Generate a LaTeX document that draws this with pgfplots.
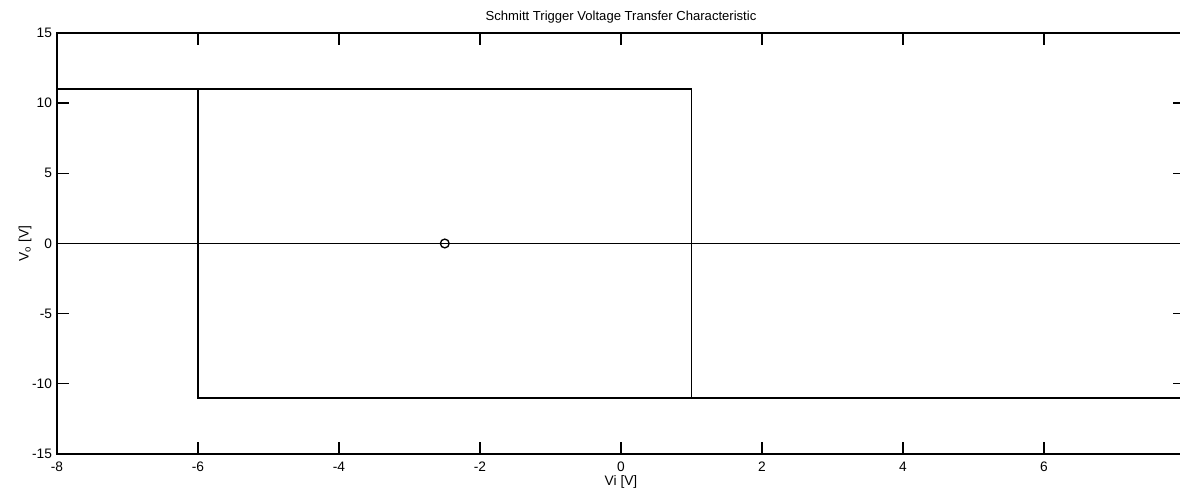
\documentclass[border=0pt]{standalone}
\usepackage{fontspec}
\setmainfont{Liberation Sans}
\usepackage{pgfplots}
\pgfplotsset{compat=1.18}
\begin{document}
\begin{tikzpicture}
\begin{axis}[
  scale only axis,
  width=846pt, height=315.75pt,
  xmin=-8, xmax=8, ymin=-15, ymax=15,
  xtick={-8,-6,...,8}, ytick={-15,-10,...,15},
  xticklabels={-8,-6,-4,-2,0,2,4,6,{}},
  tick align=inside,
  major tick length=9pt,
  every tick/.style={black, line width=1pt},
  axis line style={line width=1.1pt},
  /pgf/number format/assume math mode=true,
  font=\fontsize{10.3}{12}\selectfont,
  ticklabel style={font=\fontsize{10.3}{12}\selectfont},
  yticklabel style={inner sep=0pt, anchor=east, xshift=-3.6pt},
  xticklabel style={inner sep=0pt, anchor=north, yshift=-5.5pt},
  title={Schmitt Trigger Voltage Transfer Characteristic},
  title style={at={(axis description cs:0.5,1)}, anchor=center, yshift=6pt, inner sep=0pt, font=\fontsize{9.8}{11}\selectfont},
  xlabel={Vi [V]},
  xlabel style={at={(axis description cs:0.5,0)}, anchor=center, yshift=-21pt, inner sep=0pt},
  ylabel={V\textsubscript{o} [V]},
  ylabel style={at={(axis description cs:-0.0284,0.5)}, anchor=center, inner sep=0pt},
]
\addplot[black, line width=1.4pt] coordinates {(-8,0) (8,0)};
\addplot[black, line width=1.3pt] coordinates {(-8,11) (1,11) (1,-11) (8,-11)};
\addplot[black, line width=1.3pt] coordinates {(-6,11) (-6,-11) (1,-11)};
\addplot[black, only marks, mark=o, mark size=3.3pt, mark options={line width=1pt}] coordinates {(-2.5,0)};
\coordinate (bbA) at (axis cs:-8.809,17.352);
\coordinate (bbB) at (axis cs:7.929,-17.994);
\end{axis}
\pgfresetboundingbox
\path[use as bounding box] (bbA) rectangle (bbB);
\end{tikzpicture}
\end{document}
